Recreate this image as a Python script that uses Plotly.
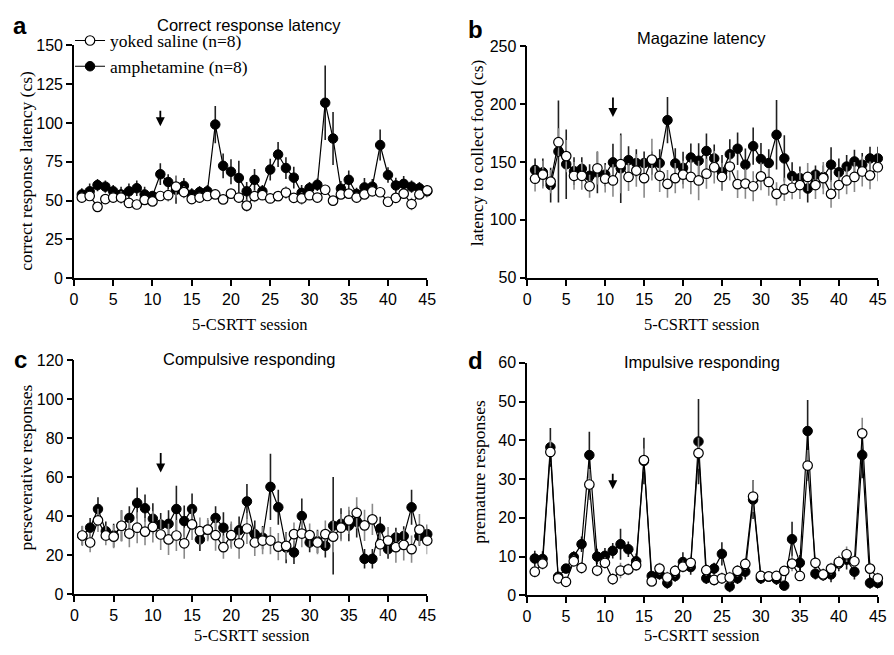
import plotly.graph_objects as go

sessions = list(range(1, 46))

# Panel a: correct response latency (cs)
a_sal = [52,53,46,51,52,52,48.5,47.5,50.5,49.5, 53,53.5,59,55.5,51,52,53,54,50.8,54.5,
         52,46.8,52.9,53.5,51.4,52.9,55.2,51.8,51.4,53.5, 52,57,50,54,54.5,52,54,56,55.4,49.3,
         51.8,54.5,47.8,54,56.6]
a_amp = [54,56,60,59,56,54,56,58,54,53, 67,62,57,59.5,54,55.5,56,99,72.4,68.6,
         64.6,56,63.4,56,70,79.7,71,64.8,55,58, 60.2,113,90,57.7,63.4,54.3,58.5,59,85.8,66.5,
         59.8,60.8,59,58,56]
a_sal_err = [3,3,3,3,3,4,3,3,3,3, 3,4,7,4,3,3,3,3,3,3, 3,4,4,3,3,3,4,3,4,3, 3,3,3,3,3,3,3,3,3,3, 3,3,4,3,3]
a_amp_err = [4,5,4,4,4,5,5,5,5,3, 7,5,9,5,4,4,4,12,8,8, 11,6,7,4,7,8,7,7,5,4, 4,24,17,5,6,4,6,5,10,5, 5,5,4,4,4]

# Panel b: magazine latency (cs)
b_sal = [135.5,139,133,167,155,138,138,129,144.5,135.5, 134,148,137,142.5,136,152,138,131,136,139,
         137,134,139.8,145.4,137,146,130.8,131.3,129,137.5, 132.7,122.4,126.3,127.7,130,137,130,136,122.4,130,
         134,137,141.7,138.4,145.4]
b_amp = [143,141,130,159,148,142,144,138,141,139, 149.6,144.5,151.5,149,149,149,149,186,148.7,144.8,
         153.8,151,159.4,153,141,156.6,161.4,147.6,163.6,152.4, 149,173.4,153,137.8,136,127,139,137,147.6,141,
         146,150.4,147.6,153,153]
b_sal_err = [11,12,10,12,14,12,12,10,14,12, 14,25,12,14,17,18,14,12,13,12, 15,17,13,14,12,12,12,13,13,12,
             12,10,10,10,12,12,12,14,12,12, 12,13,13,12,12]
b_amp_err = [10,12,15,44,30,12,10,10,18,10, 16,30,12,12,10,10,12,20,13,14, 12,15,15,12,15,13,14,14,16,14,
             12,30,20,12,10,12,8,10,15,12, 10,10,10,10,10]

# Panel c: perseverative responses
c_sal = [30,26.4,37.8,30,29.4,35,31,34,32,34.4, 30.5,28,30,26,35.7,32.2,33,30.2,24,30.2,
         26,33.6,26.4,27.4,27.4,24.3,24.7,30.7,31,30.2, 26.4,30.7,29.4,34,37.8,41.6,35.2,38.3,25.5,27.4,
         24,25.2,23,33,27.4]
c_amp = [29.9,34,43.6,32.2,30,35,39,46.7,44,38.6, 35.6,36,43.6,37.4,43.6,28,33,39,34,30,
         32.7,47.5,30.7,28.9,55,44.5,23.8,21.3,40,26.4, 27,24.7,35,36,35,37,18,18,33.6,23,
         29,29.7,44.5,29.7,30.7]
c_sal_err = [5,5,6,5,6,8,7,8,7,8, 8,8,8,8,8,7,6,8,6,7, 8,8,7,7,7,7,7,6,7,6, 6,7,8,7,7,8,8,8,6,7, 8,8,7,8,7]
c_amp_err = [5,5,6,5,6,8,6,8,7,8, 6,7,12,8,8,6,5,6,8,6, 7,9,7,6,17,9,8,6,9,5, 6,6,25,8,8,8,5,5,6,5, 5,5,9,5,5]

# Panel d: premature responses
d_sal = [6.1,8.2,37,4.4,3.5,8.8,7.1,28.6,6.4,8.4, 4.2,6.4,6.7,7.8,34.9,3.6,6.9,4.6,6.3,7.4,
         8.4,36.7,6.5,4,4.4,4.6,6.3,8.1,25.5,5, 4.9,5,6.3,8.2,5,33.5,8.4,5.4,6.9,8.6,
         10.6,8.8,41.8,6.9,4.4]
d_amp = [9.5,9.4,38.2,4.8,6.9,9.9,13.2,36.2,10,10.2, 11.5,13.2,11.9,8.8,34.7,5,5.5,3.2,5,8.6,
         7.3,39.7,4.4,6.9,10.7,2.3,4.4,6.1,24.7,4.4, 4.8,4.2,2.5,14.5,8.4,42.4,5.6,5.2,5.4,8.2,
         9.2,6.1,36.2,3.2,3.2]
d_sal_err = [1.5,1.5,3,1,1,1.5,1.5,4,1.5,1.5, 1.5,2,1.5,1.5,3,1,1.5,1.5,1.5,1.5, 1.5,4,1.5,1.5,1.5,1.5,1.5,1.5,4,1,
             1,1,1,2,1,4,1.5,1.5,1.5,1.5, 2,1.5,4,1.5,1.5]
d_amp_err = [2,2,5,1,1,1.5,2,6,2,2, 2,4,2,2,6,1,1.5,1.5,1.5,2.5, 2,11,1.5,1.5,3,1.5,1.5,2,5,1.5,
             1,1.5,1,4.5,2,8,1.5,1.5,2,2, 2.5,2,6,1.5,1.5]

panel_titles = ["Correct response latency", "Magazine latency", "Compulsive responding", "Impulsive responding"]
panel_letters = ["a", "b", "c", "d"]
y_titles = ["correct response latency (cs)", "latency to collect food (cs)",
            "perseverative responses", "premature responses"]
x_title = "5-CSRTT session"
y_ranges = [[0, 150], [50, 250], [0, 120], [0, 60]]
y_dtick = [25, 50, 20, 10]
arrow_session = 11
arrow_tips = [97.9, 188.8, 62.4, 27.4]
arrow_len = [-17, -21, -21, -17]

W, H = 894, 655
SANS = "Liberation Sans, Arial, sans-serif"
SERIF = "Liberation Serif, Times New Roman, serif"

# pixel boxes (left, right, top, bottom)
boxes = [(71, 429.5, 38.3, 277.5), (531, 886.7, 39, 277), (71.5, 429.5, 361.7, 601.5), (530.7, 886.7, 364.3, 603)]

panels = [
    (a_sal, a_sal_err, a_amp, a_amp_err),
    (b_sal, b_sal_err, b_amp, b_amp_err),
    (c_sal, c_sal_err, c_amp, c_amp_err),
    (d_sal, d_sal_err, d_amp, d_amp_err),
]

fig = go.Figure()
annotations = []
layout = {}
for i, (sal, sal_err, amp, amp_err) in enumerate(panels):
    n = "" if i == 0 else str(i + 1)
    xa, ya = "x" + n, "y" + n
    fig.add_trace(go.Scatter(
        x=sessions, y=amp, mode="lines+markers", name="amphetamine (n=8)",
        xaxis=xa, yaxis=ya, showlegend=(i == 0), cliponaxis=False,
        line=dict(color="black", width=1.2),
        marker=dict(symbol="circle", size=9.5, color="black", line=dict(color="black", width=1)),
        error_y=dict(type="data", array=amp_err, visible=True, color="#202020", thickness=1.6, width=0),
        legendrank=2,
    ))
    fig.add_trace(go.Scatter(
        x=sessions, y=sal, mode="lines+markers", name="yoked saline (n=8)",
        xaxis=xa, yaxis=ya, showlegend=(i == 0), cliponaxis=False,
        line=dict(color="black", width=1.2),
        marker=dict(symbol="circle", size=9.5, color="white", line=dict(color="black", width=1.2)),
        error_y=dict(type="data", array=sal_err, visible=True, color="#8a8a8a", thickness=1.6, width=0),
        legendrank=1,
    ))
    l, r, t, b = boxes[i]
    axis_common = dict(showline=True, linecolor="black", linewidth=1.5, ticks="outside",
                       ticklen=6, tickwidth=1.5, tickcolor="black", showgrid=False, zeroline=False,
                       tickfont=dict(family=SANS, size=16, color="black"))
    layout["xaxis" + n] = dict(domain=[l / W, r / W], anchor=ya, range=[0, 45], dtick=5, tick0=0,
                               **axis_common)
    layout["yaxis" + n] = dict(domain=[1 - b / H, 1 - t / H], anchor=xa, range=y_ranges[i],
                               dtick=y_dtick[i], tick0=y_ranges[i][0], **axis_common)
    # arrow at drug onset
    annotations.append(dict(x=arrow_session, y=arrow_tips[i], xref=xa, yref=ya, ax=0, ay=arrow_len[i],
                            showarrow=True, arrowhead=2, arrowsize=1.0, arrowwidth=1.8,
                            arrowcolor="black", text=""))

# titles and labels (pixel positions converted to paper coords)
def P(x, y):
    return x / W, 1 - y / H

title_pos = [(249, 17), (708, 31), (249, 360), (708, 363)]
letter_pos = [(16, 18), (478, 22), (17, 361), (478, 362)]
ytitle_pos = [(21.5, 167), (480, 149), (22, 472), (482, 476)]
xtitle_pos = [(250, 325), (708, 325), (252, 644), (708, 644)]
for i in range(4):
    px, py = P(*title_pos[i])
    annotations.append(dict(x=px, y=py, xref="paper", yref="paper", text=panel_titles[i], showarrow=False,
                            font=dict(family=SANS, size=16.5, color="black"), xanchor="center", yanchor="middle"))
    px, py = P(*letter_pos[i])
    annotations.append(dict(x=px, y=py, xref="paper", yref="paper", text="<b>" + panel_letters[i] + "</b>",
                            showarrow=False, font=dict(family=SANS, size=24, color="black"),
                            xanchor="center", yanchor="middle"))
    px, py = P(*ytitle_pos[i])
    annotations.append(dict(x=px, y=py, xref="paper", yref="paper", text=y_titles[i], showarrow=False,
                            textangle=-90, font=dict(family=SERIF, size=17.5, color="black"),
                            xanchor="center", yanchor="middle"))
    px, py = P(*xtitle_pos[i])
    annotations.append(dict(x=px, y=py, xref="paper", yref="paper", text=x_title, showarrow=False,
                            font=dict(family=SERIF, size=16.5, color="black"), xanchor="center", yanchor="middle"))

fig.update_layout(
    width=W, height=H, margin=dict(l=0, r=0, t=0, b=0),
    paper_bgcolor="white", plot_bgcolor="white",
    annotations=annotations,
    legend=dict(x=67 / W, y=1 - 15 / H, xanchor="left", yanchor="top", bgcolor="rgba(0,0,0,0)",
                font=dict(family=SERIF, size=17.5, color="black"), tracegroupgap=0, itemwidth=30),
    **layout,
)
fig.write_html("out.html")
